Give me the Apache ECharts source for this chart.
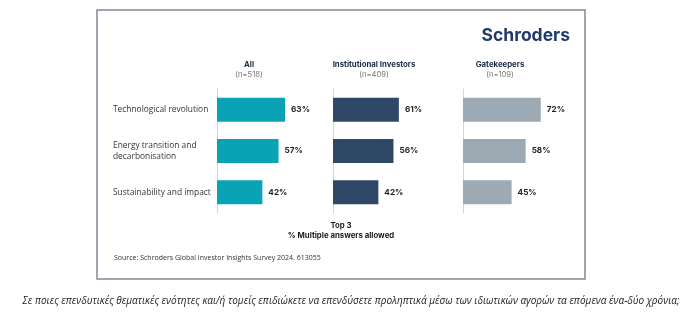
<!DOCTYPE html>
<html><head><meta charset="utf-8">
<script src="https://cdn.jsdelivr.net/npm/echarts@6/dist/echarts.min.js"></script>
<style>html,body{margin:0;padding:0;background:#fff;}#c{width:700px;height:322px;}</style>
</head><body><div id="c"></div>
<script>
const categories = ["Technological revolution", "Energy transition and decarbonisation", "Sustainability and impact"];
const groups = ["All", "Institutional Investors", "Gatekeepers"];
const groupN = ["(n=518)", "(n=409)", "(n=109)"];
const allValues = [63, 57, 42];
const institutionalValues = [61, 56, 42];
const gatekeeperValues = [72, 58, 45];
const colors = ["#0aa2b5", "#2f4868", "#9daab4"];

const chart = echarts.init(document.getElementById('c'), null, {renderer: 'canvas'});
const lefts = [217, 333, 463];
const headerX = [249, 374, 500];
const seriesData = [allValues, institutionalValues, gatekeeperValues];

const grids = lefts.map(l => ({left: l, top: 89, width: 108, height: 124}));
const xAxes = lefts.map((l, i) => ({gridIndex: i, type: 'value', min: 0, max: 100, show: false}));
const yAxes = lefts.map((l, i) => ({
  gridIndex: i, type: 'category', data: categories, inverse: true,
  axisLine: {show: true, lineStyle: {color: '#d3d7db', width: 1}},
  axisTick: {show: false},
  axisLabel: i === 0 ? {show: true, align: 'left', margin: 104, width: 100, overflow: 'break',
    fontFamily: 'Open Sans', fontSize: 8.4, color: '#333', lineHeight: 11} : {show: false}
}));
const series = seriesData.map((d, i) => ({
  type: 'bar', xAxisIndex: i, yAxisIndex: i, data: d, barWidth: 24,
  itemStyle: {color: colors[i]},
  label: {show: true, position: 'right', distance: 6, formatter: '{c}%',
    fontFamily: 'Inter', fontWeight: 'bold', fontSize: 8.2, color: '#222'}
}));

const graphic = [
  {type: 'rect', shape: {x: 97, y: 10, width: 488, height: 269},
   style: {fill: 'none', stroke: '#7f8a96', lineWidth: 1.5}},
  {type: 'text', x: 570, y: 36, style: {text: 'Schroders', align: 'right', verticalAlign: 'middle',
    font: 'bold 17.5px Inter', fill: '#1f3b6b'}},
  {type: 'text', x: 341, y: 226, style: {text: 'Top 3', align: 'center', verticalAlign: 'middle',
    font: 'bold 7.8px Inter', fill: '#1a1a1a'}},
  {type: 'text', x: 341, y: 236, style: {text: '% Multiple answers allowed', align: 'center', verticalAlign: 'middle',
    font: 'bold 7.8px Inter', fill: '#1a1a1a'}},
  {type: 'text', x: 114, y: 258, style: {text: 'Source: Schroders Global Investor Insights Survey 2024. 613055', align: 'left', verticalAlign: 'middle',
    font: '7px "Open Sans"', fill: '#333'}},
  {type: 'text', x: 351, y: 301, style: {text: 'Σε ποιες επενδυτικές θεματικές ενότητες και/ή τομείς επιδιώκετε να επενδύσετε προληπτικά μέσω των ιδιωτικών αγορών τα επόμενα ένα-δύο χρόνια;', align: 'center', verticalAlign: 'middle',
    font: 'italic 10px "Open Sans"', fill: '#222'}}
];
groups.forEach((g, i) => {
  graphic.push({type: 'text', x: headerX[i], y: 65, style: {text: g, align: 'center', verticalAlign: 'middle',
    font: 'bold 7.8px Inter', fill: '#1c2b45'}});
  graphic.push({type: 'text', x: headerX[i], y: 75, style: {text: groupN[i], align: 'center', verticalAlign: 'middle',
    font: '7.6px Inter', fill: '#777'}});
});

chart.setOption({animation: false, grid: grids, xAxis: xAxes, yAxis: yAxes, series: series, graphic: graphic});
</script></body></html>
